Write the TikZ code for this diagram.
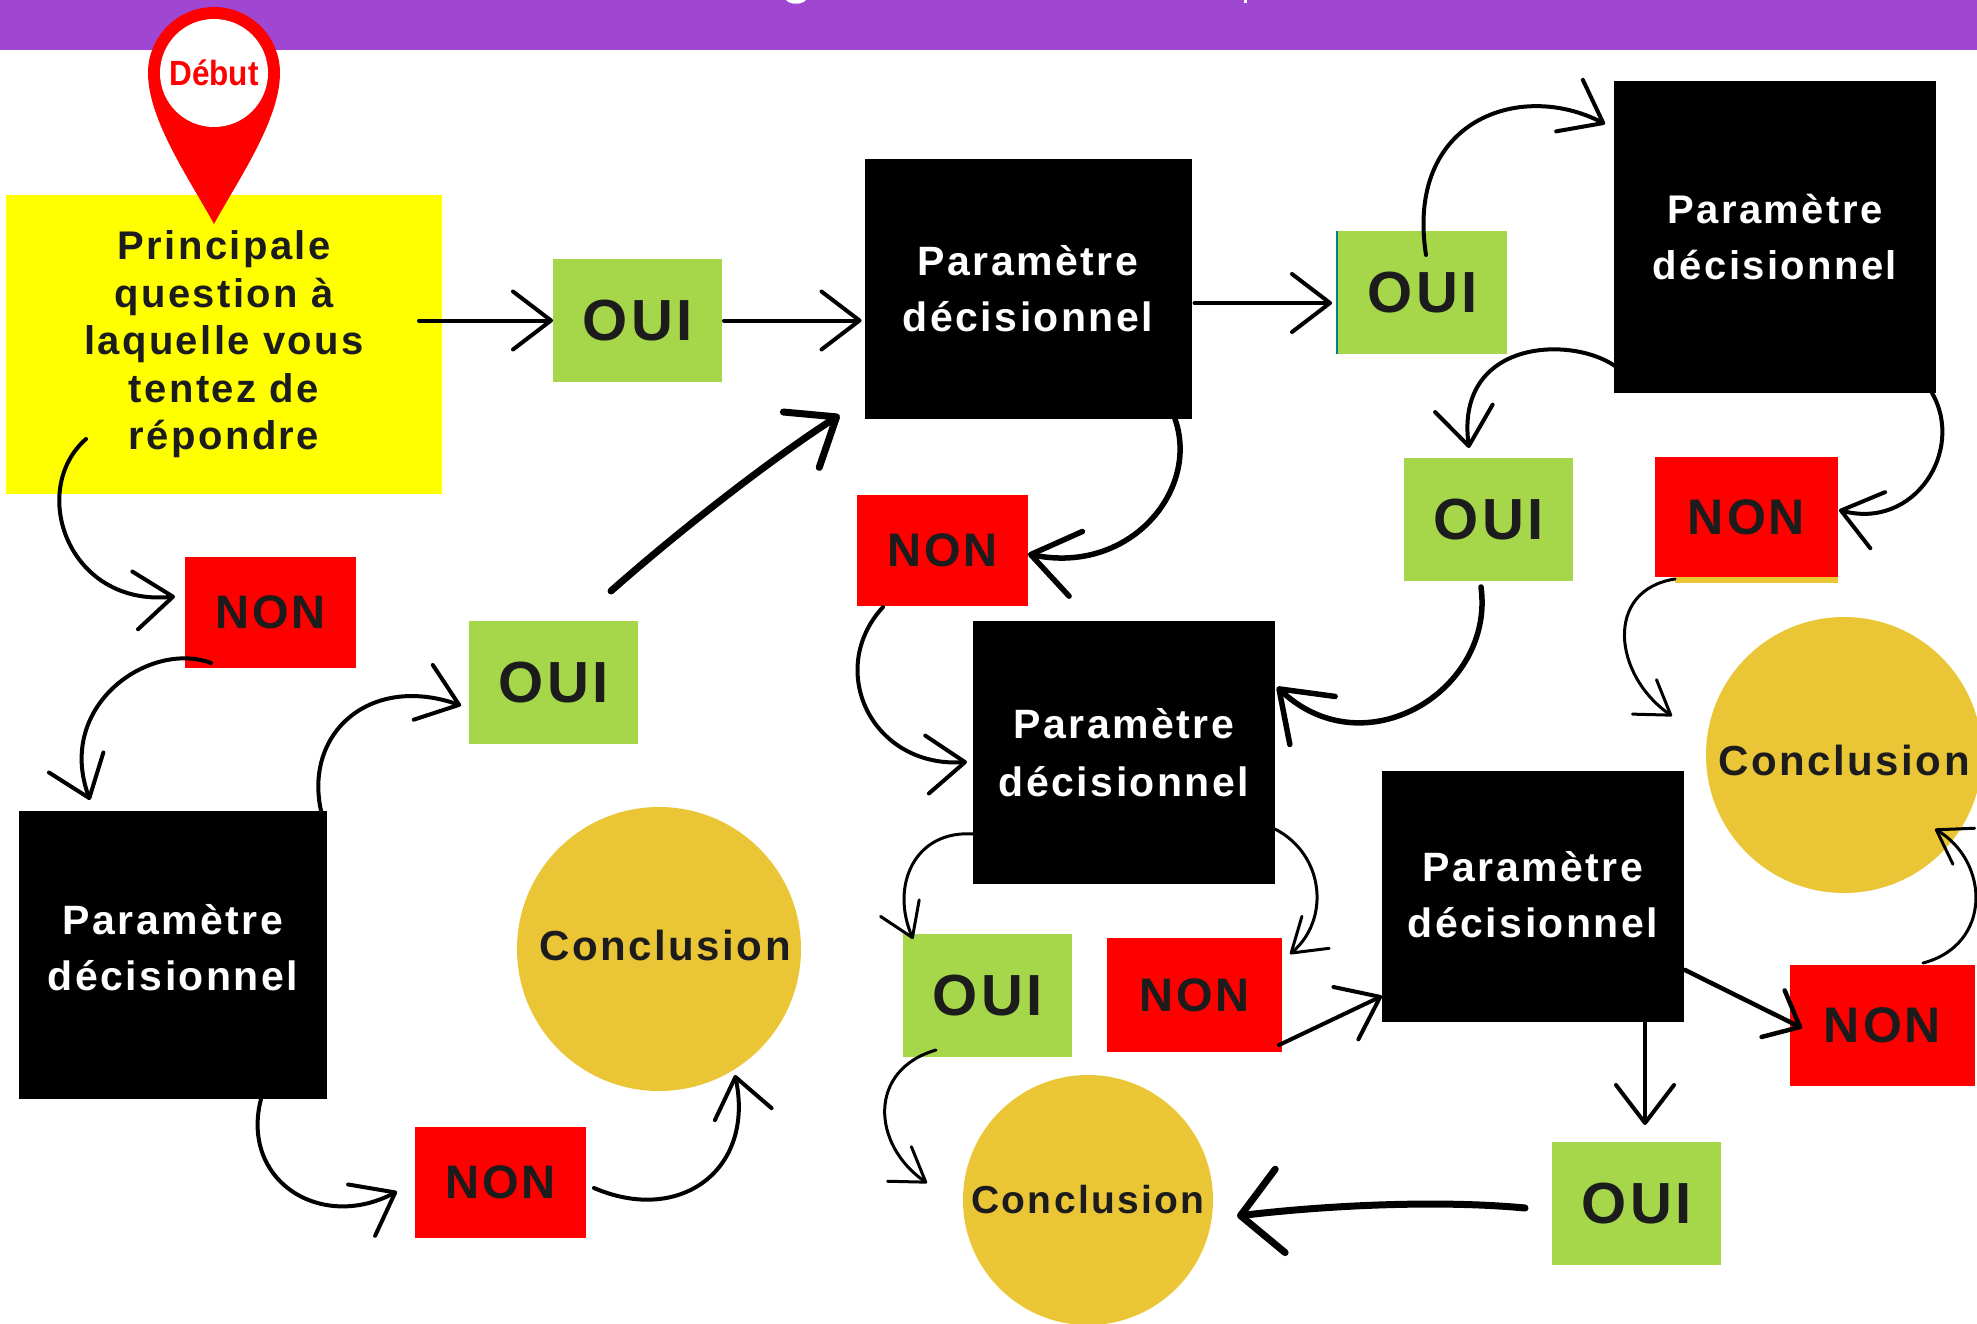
\documentclass[tikz,border=0pt]{standalone}
\usepackage{fontspec}
\usepackage{tikz}
\usetikzlibrary{arrows.meta}
\newfontfamily\labelfont[LetterSpace=6]{Liberation Sans}
\newfontfamily\pinfont[FakeStretch=0.9]{Liberation Sans}
\definecolor{bannercol}{HTML}{9F47D3}
\definecolor{ouicol}{HTML}{A6D74A}
\definecolor{concol}{HTML}{EAC536}
\definecolor{inkcol}{HTML}{1C1C1C}
\definecolor{questcol}{HTML}{FFFF00}
\definecolor{noncol}{HTML}{FF0000}
\pgfdeclarelayer{bg}
\pgfsetlayers{bg,main}
\tikzset{
    every node/.style={inner sep=0mm, outer sep=0mm, align=center, text=inkcol},
    ouibox/.style={rectangle, fill=ouicol, minimum width=169pt, minimum height=123pt,
        font=\labelfont\bfseries\fontsize{58}{60}\selectfont},
    nonbox/.style={rectangle, fill=noncol, font=\labelfont\bfseries\fontsize{47}{50}\selectfont},
    parbox/.style={rectangle, fill=black, text=white, font=\labelfont\bfseries\fontsize{41}{56}\selectfont},
    conbox/.style={circle, fill=concol, font=\labelfont\bfseries\fontsize{42}{46}\selectfont},
    thinarrow/.style={draw=black, line width=3pt, line cap=round, -{Straight Barb[length=32pt,width=42pt,round]}},
    midarrow/.style={draw=black, line width=4pt, line cap=round, -{Straight Barb[length=38pt,width=58pt,round]}},
    heavyarrow/.style={draw=black, line width=5.5pt, line cap=round, -{Straight Barb[length=46pt,width=66pt,round]}},
    brusharrow/.style 2 args={draw=black, line width=7pt, line cap=round, -{Straight Barb[length=#1,width=#2,round]}}
}

\begin{document}
\begin{tikzpicture}[x=1pt, y=-1pt]
        \useasboundingbox (0,0) rectangle (1977,1324);
        \begin{pgfonlayer}{bg}
                \fill[white] (0,0) rectangle (1977,1324);
                \fill[bannercol] (0,0) rectangle (1977,50);
                \fill[white] (786,0) .. controls (790,5) and (802,5) .. (806,0);
                \fill[white] (1244,0) rectangle (1247,3);
                \fill[concol] (1675,570) rectangle (1838,583);
                \fill[teal] (1336,231) rectangle (1338,354);
        \end{pgfonlayer}
        \node (q0) [rectangle, fill=questcol, minimum width=436pt, minimum height=299pt,
            font=\labelfont\bfseries\fontsize{40}{47.5}\selectfont] at (224, 344.5)
            {Principale\\question à\\laquelle vous\\tentez de\\répondre};
        \fill[noncol] (214,224) .. controls (190,180) and (148,120) .. (148,73)
            .. controls (148,36.5) and (177.5,7) .. (214,7)
            .. controls (250.5,7) and (280,36.5) .. (280,73)
            .. controls (280,120) and (238,180) .. (214,224) -- cycle;
        \node (pin) [circle, fill=white, minimum size=108pt, text=noncol,
            font=\pinfont\bfseries\fontsize{35}{37}\selectfont] at (214, 73) {Début};

        \node (oui1) [ouibox] at (637.5, 320.5) {OUI};
        \node (oui2) [ouibox] at (1422.5, 292.5) {OUI};
        \node (oui3) [ouibox] at (553.5, 682.5) {OUI};
        \node (oui4) [ouibox] at (1488.5, 519.5) {OUI};
        \node (oui5) [ouibox] at (987.5, 995.5) {OUI};
        \node (oui6) [ouibox] at (1636.5, 1203.5) {OUI};

        \node (non1) [nonbox, minimum width=171pt, minimum height=111pt] at (270.5, 612.5) {NON};
        \node (non2) [nonbox, minimum width=171pt, minimum height=111pt] at (500.5, 1182.5) {NON};
        \node (non3) [nonbox, minimum width=171pt, minimum height=111pt] at (942.5, 550.5) {NON};
        \node (non4) [nonbox, minimum width=183pt, minimum height=120pt, font=\labelfont\bfseries\fontsize{50}{52}\selectfont] at (1746.5, 517) {NON};
        \node (non5) [nonbox, minimum width=175pt, minimum height=114pt] at (1194.5, 995) {NON};
        \node (non6) [nonbox, minimum width=185pt, minimum height=121pt, font=\labelfont\bfseries\fontsize{50}{52}\selectfont] at (1882.5, 1025.5) {NON};

        \node (par1) [parbox, minimum width=327pt, minimum height=260pt] at (1028, 289) {Paramètre\\décisionnel};
        \node (par2) [parbox, minimum width=322pt, minimum height=312pt, font=\labelfont\bfseries\fontsize{40}{56}\selectfont] at (1775, 237) {Paramètre\\décisionnel};
        \node (par3) [parbox, minimum width=308pt, minimum height=288pt, text depth=15pt] at (173, 955) {Paramètre\\décisionnel};
        \node (par4) [parbox, minimum width=302pt, minimum height=263pt] at (1124, 752.5) {Paramètre\\[2pt]décisionnel};
        \node (par5) [parbox, minimum width=302pt, minimum height=251pt, text depth=4pt] at (1533, 896.5) {Paramètre\\décisionnel};

        \node (con1) [conbox, minimum size=284pt, text depth=7pt] at (659, 949) {\hspace*{12pt}Conclusion};
        \node (con2) [conbox, minimum size=276pt, text height=42pt] at (1844, 755) {Conclusion};
        \node (con3) [conbox, minimum size=250pt, font=\labelfont\bfseries\fontsize{39}{44}\selectfont] at (1088, 1200) {Conclusion};

        \draw [midarrow] ([xshift=-23,yshift=24]q0.east) -- (oui1.west);
        \draw [midarrow] ([xshift=2]oui1.east) -- ([xshift=-3]par1.west |- oui1.east);
        \draw [midarrow] ([xshift=3,yshift=-14]par1.east) -- ([xshift=-6]oui2.west |- 0,303);
        \draw [midarrow] (1426,255) .. controls (1405,120) and (1520,80) .. ([xshift=-9]par2.west |- 0,124);
        \draw [midarrow] (86,439) .. controls (28,490) and (68,607) .. ([xshift=-10,yshift=16]non1.west);
        \draw [midarrow] (211,663) .. controls (150,640) and (55,705) .. (90,800);
        \draw [midarrow] (325,825) .. controls (296,740) and (365,672) .. ([xshift=-8,yshift=-23]oui3.west);
        \draw [brusharrow={42pt}{66pt}] (611,591) .. controls (680,530) and (770,460) .. ([xshift=-25,yshift=4]par1.south west);
        \draw [midarrow] (261,1099) .. controls (240,1180) and (320,1232) .. ([xshift=-18,yshift=-9]non2.west);
        \draw [midarrow] (594,1188) .. controls (680,1225) and (755,1170) .. (735,1075);
        \draw [heavyarrow] (1175,419) .. controls (1200,490) and (1130,575) .. (non3.east |- 0,554);
        \draw [midarrow] (883,607) .. controls (825,670) and (872,768) .. (967,762);
        \draw [heavyarrow] (1481,587) .. controls (1495,690) and (1365,770) .. (1277,687);
        \draw [midarrow] (1615,366) .. controls (1570,335) and (1455,340) .. (1469,448);
        \draw [midarrow] (1932,393) .. controls (1965,450) and (1915,530) .. (1839,510);
        \draw [thinarrow] (1675,579) .. controls (1604,590) and (1613,675) .. (1672,716);
        \draw [thinarrow] (1923,963) .. controls (1992,945) and (1990,862) .. (1935,829);
        \draw [thinarrow] (973,834) .. controls (915,830) and (890,885) .. (913,939);
        \draw [thinarrow] (1275,829) .. controls (1325,855) and (1330,920) .. (1290,954);
        \draw [thinarrow] (936,1050) .. controls (867,1070) and (872,1145) .. (927,1183);
        \draw [midarrow] (1279,1045) -- (1382,996);
        \draw [line width=4.5pt, line cap=round, -{Straight Barb[length=30pt,width=52pt,round]}] (1685,970) -- (1802,1028);
        \draw [midarrow] (1645,1022) -- (1645,1125);
        \draw [brusharrow={40pt}{84pt}] (1525,1208) .. controls (1440,1200) and (1330,1205) .. (1237,1216);
\end{tikzpicture}
\end{document}
